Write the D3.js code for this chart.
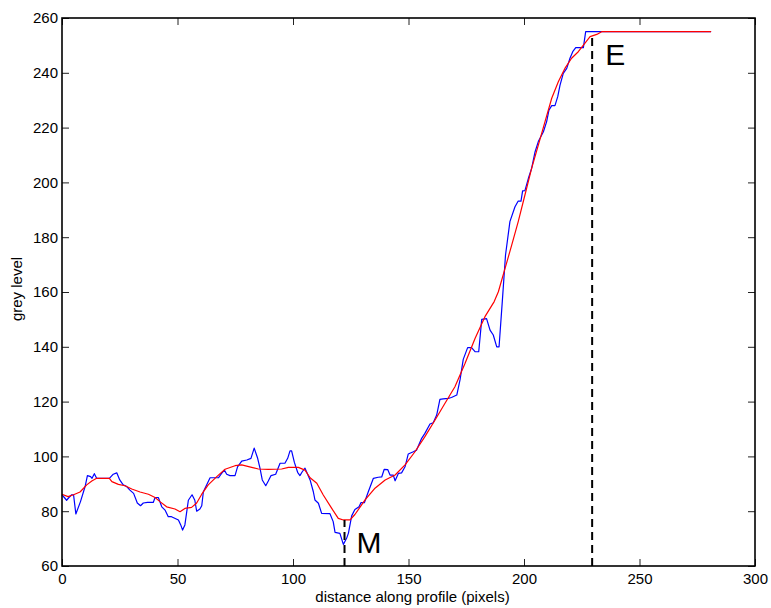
<!DOCTYPE html>
<html>
<head>
<meta charset="utf-8">
<script src="https://cdn.jsdelivr.net/npm/d3@7"></script>
<style>
  html, body { margin: 0; padding: 0; background: #fff; }
  svg { display: block; font-family: "Liberation Sans", Arial, sans-serif; }
</style>
</head>
<body>
<svg id="chart" width="771" height="608"></svg>
<script>
// Raw grey-level profile (vertices along the profile)
const rawX = [0, 1, 2, 3, 4.2, 5, 6, 8, 10, 11, 12.4, 13, 14, 15, 20.5, 22.2, 23.7, 25, 26.5, 28, 29.4, 31, 32.6, 34, 35.2, 37, 39.5, 40.3, 41.7, 43.2, 44.6, 46, 47.4, 50.4, 51.4, 52.2, 53.2, 54.7, 56.3, 57.5, 58.3, 59.7, 60.5, 61.2, 62.6, 64.1, 67.7, 69.1, 70.3, 71.3, 72.7, 74.9, 76, 77.8, 80, 81.8, 83.2, 84.7, 85.7, 86.7, 88.2, 89.3, 90.5, 92.5, 94.4, 96.5, 97.7, 98.7, 99.4, 100.6, 102, 103, 104, 105.2, 107.4, 108.8, 109.5, 111, 112.4, 116, 117.4, 118.2, 120.3, 121.8, 123.2, 124, 125.4, 126.8, 128.6, 129.4, 130.9, 132.6, 134.8, 136.9, 138.4, 139.5, 141, 142, 143.4, 144.2, 145.6, 147, 148.5, 149.9, 152.1, 153.5, 155.7, 157.1, 159.3, 160.7, 162.2, 163.6, 165, 167.2, 168.6, 170.9, 172.3, 173.7, 175.6, 177.3, 178.8, 180.4, 181.7, 183.8, 185.3, 186.7, 188.2, 189.2, 190.6, 192, 193.9, 196.1, 197.5, 198.7, 199.4, 200.4, 201.9, 203.3, 204.8, 206.2, 208.4, 209.8, 210.8, 212, 213.4, 214.6, 215.6, 217, 218.5, 219.9, 221.1, 222.4, 225.7, 226.7, 281];
const rawY = [86, 85, 84, 85, 86, 86, 79, 83.5, 89, 93, 92.6, 92, 93.7, 92, 92, 93.5, 94, 91.4, 89.6, 89, 87.7, 86.5, 83, 82, 83, 83.2, 83.2, 85, 85, 81.6, 80.4, 78, 78, 76.8, 75, 73.1, 75, 84, 86, 84, 80, 80.8, 82, 87.1, 89.6, 92.2, 92.2, 93.8, 95, 93.5, 93, 93, 96.2, 98.3, 98.7, 99.3, 103, 99.3, 95.7, 91.4, 89.3, 91, 93, 93.5, 97.5, 97.5, 99.3, 102, 102, 97.8, 94.2, 93, 94.4, 95.7, 91.4, 87.1, 84.1, 82.9, 79.2, 79.1, 76.2, 72.3, 71.9, 67.9, 70.1, 72, 78.3, 80.6, 81.6, 83.1, 83.1, 87.1, 92, 92.4, 92.5, 95.3, 95.2, 93.2, 93.2, 91.1, 93.8, 94, 96.2, 100.9, 101.7, 102.3, 106.6, 108.4, 111.8, 112.3, 115.1, 120.8, 121, 121.2, 121.5, 122.4, 127.9, 135.4, 139.7, 139.7, 138.2, 138.2, 150, 150.3, 146.1, 144.3, 140, 140, 156.5, 173.5, 185.7, 191.1, 193.2, 193.2, 196.9, 197, 201.5, 205.1, 211.2, 214.9, 218.5, 222.2, 226.4, 228, 228, 231.3, 235.5, 239.8, 241.6, 245.3, 247.7, 249.2, 249.2, 255, 255];

// Smoothed profile
const smoothX = [0, 2.6, 5, 7.8, 10.7, 12.9, 15, 20.5, 21.6, 24.4, 27.3, 30.2, 33.8, 37.4, 40.3, 42.4, 45.3, 48.9, 51.1, 53.2, 56.1, 58.3, 60.5, 63.3, 67, 70.6, 74.9, 77.8, 82.1, 85, 89.3, 95.1, 98, 102.3, 105.2, 107.4, 110.3, 113.1, 116.7, 119.6, 121.8, 124.7, 126.8, 131.2, 135.5, 139.9, 144.2, 148.5, 152.8, 157.1, 161.5, 165.8, 170.1, 174.5, 178.8, 183.1, 187.1, 188.9, 191.8, 194.7, 197.5, 200.4, 203.3, 206.2, 209.1, 212, 214.9, 217.7, 220.6, 223.5, 226.4, 228.6, 231.5, 233.6, 281];
const smoothY = [86.2, 85.3, 86, 87, 89.6, 91, 92, 92, 90.8, 89.8, 89.3, 88.1, 87, 86.2, 85, 83.5, 81.6, 80.8, 79.8, 81, 81.4, 83, 86.2, 89.6, 92.6, 95.3, 96.6, 96.9, 96, 95.4, 95.3, 95.4, 96, 96, 95, 92.2, 90.2, 85.9, 81.1, 77.4, 76.8, 76.8, 78.8, 84.1, 88.4, 91.4, 93.2, 96.9, 101.7, 107.2, 113.3, 119.4, 125.4, 134, 143, 151, 156.5, 160.1, 168.6, 177.2, 185.7, 195.4, 205.1, 213.6, 222.2, 230.7, 236.8, 241.6, 245.3, 247.7, 250.8, 253.2, 254, 255, 255];

// Marked positions on the profile
const markerNames = ["M", "E"];
const markerX = [122.3, 229.5];
const markerY = [76.8, 253];

const xTicks = [0, 50, 100, 150, 200, 250, 300];
const yTicks = [60, 80, 100, 120, 140, 160, 180, 200, 220, 240, 260];

const margin = { left: 62, right: 16, top: 18, bottom: 42 };
const W = 771, H = 608;
const iw = W - margin.left - margin.right;
const ih = H - margin.top - margin.bottom;

const svg = d3.select("#chart");
const g = svg.append("g").attr("transform", `translate(${margin.left},${margin.top})`);

const x = d3.scaleLinear().domain([0, 300]).range([0, iw]);
const y = d3.scaleLinear().domain([60, 260]).range([ih, 0]);

const tickLen = 7;

// Axes: ticks point inward, mirrored on top and right
const xb = g.append("g").attr("transform", `translate(0,${ih})`)
  .call(d3.axisBottom(x).tickValues(xTicks).tickSize(-tickLen).tickPadding(7));
const xt = g.append("g")
  .call(d3.axisTop(x).tickValues(xTicks).tickSize(-tickLen).tickFormat(""));
const yl = g.append("g")
  .call(d3.axisLeft(y).tickValues(yTicks).tickSize(-tickLen).tickPadding(4));
const yr = g.append("g").attr("transform", `translate(${iw},0)`)
  .call(d3.axisRight(y).tickValues(yTicks).tickSize(-tickLen).tickFormat(""));

[xb, xt, yl, yr].forEach(a => {
  a.select(".domain").remove();
  a.selectAll(".tick line").attr("stroke", "#222").attr("stroke-width", 1);
  a.selectAll(".tick text").attr("font-size", 15).attr("fill", "#000")
    .attr("font-family", "Liberation Sans, Arial, sans-serif");
});

// Data lines
const lineRaw = d3.line().x((d, i) => x(rawX[i])).y(d => y(d));
const lineSmooth = d3.line().x((d, i) => x(smoothX[i])).y(d => y(d));

const plot = g.append("g");
plot.append("path").attr("d", lineRaw(rawY))
  .attr("fill", "none").attr("stroke", "#0000ff").attr("stroke-width", 1.2)
  .attr("stroke-linejoin", "round");
plot.append("path").attr("d", lineSmooth(smoothY))
  .attr("fill", "none").attr("stroke", "#ff0000").attr("stroke-width", 1.2)
  .attr("stroke-linejoin", "round");

// Dashed markers and their labels
markerNames.forEach((name, i) => {
  g.append("line")
    .attr("x1", x(markerX[i])).attr("x2", x(markerX[i]))
    .attr("y1", y(60)).attr("y2", y(markerY[i]))
    .attr("stroke", "#000").attr("stroke-width", 2)
    .attr("stroke-dasharray", "8,5");
});
g.append("text").attr("x", x(markerX[0]) + 12).attr("y", y(64) - 2)
  .attr("font-size", 30).text(markerNames[0]);
g.append("text").attr("x", x(markerX[1]) + 13).attr("y", y(241) - 5)
  .attr("font-size", 30).text(markerNames[1]);

// Frame
g.append("rect").attr("x", 0).attr("y", 0).attr("width", iw).attr("height", ih)
  .attr("fill", "none").attr("stroke", "#000").attr("stroke-width", 1.6);

// Axis titles
g.append("text").attr("x", iw / 2 + 4).attr("y", ih + 36)
  .attr("text-anchor", "middle").attr("font-size", 15).text("distance along profile (pixels)");
g.append("text")
  .attr("transform", `translate(${-40},${ih / 2 - 3}) rotate(-90)`)
  .attr("text-anchor", "middle").attr("font-size", 15).text("grey level");
</script>
</body>
</html>
